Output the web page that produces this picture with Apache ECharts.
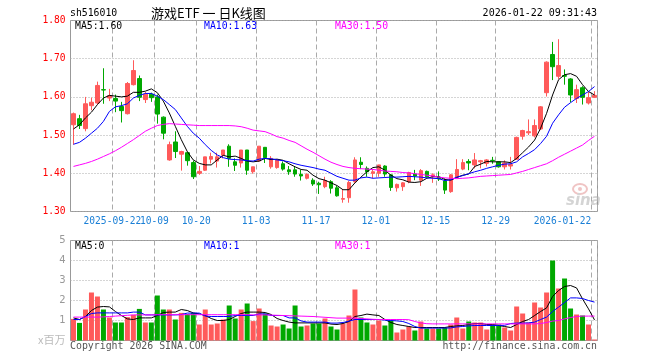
<!DOCTYPE html>
<html><head><meta charset="utf-8">
<script src="https://cdn.jsdelivr.net/npm/echarts@6/dist/echarts.min.js"></script>
<style>html,body{margin:0;padding:0;background:#fff}#c{width:660px;height:360px}</style>
</head><body><div id="c"></div>
<script>
const dates = [
'2025-09-11','2025-09-12','2025-09-15','2025-09-16','2025-09-17','2025-09-18','2025-09-19',
'2025-09-22','2025-09-23','2025-09-24','2025-09-25','2025-09-26','2025-09-29','2025-09-30',
'2025-10-09','2025-10-10','2025-10-13','2025-10-14','2025-10-15','2025-10-16','2025-10-17',
'2025-10-20','2025-10-21','2025-10-22','2025-10-23','2025-10-24','2025-10-27','2025-10-28','2025-10-29','2025-10-30','2025-10-31',
'2025-11-03','2025-11-04','2025-11-05','2025-11-06','2025-11-07','2025-11-10','2025-11-11','2025-11-12','2025-11-13','2025-11-14',
'2025-11-17','2025-11-18','2025-11-19','2025-11-20','2025-11-21','2025-11-24','2025-11-25','2025-11-26','2025-11-27','2025-11-28',
'2025-12-01','2025-12-02','2025-12-03','2025-12-04','2025-12-05','2025-12-08','2025-12-09','2025-12-10','2025-12-11','2025-12-12',
'2025-12-15','2025-12-16','2025-12-17','2025-12-18','2025-12-19','2025-12-22','2025-12-23','2025-12-24','2025-12-25','2025-12-26',
'2025-12-29','2025-12-30','2025-12-31','2026-01-05','2026-01-06','2026-01-07','2026-01-08','2026-01-09','2026-01-12','2026-01-13',
'2026-01-14','2026-01-15','2026-01-16','2026-01-19','2026-01-20','2026-01-21','2026-01-22'];

const tickDates = ['2025-09-22','2025-10-09','2025-10-20','2025-11-03','2025-11-17','2025-12-01','2025-12-15','2025-12-29','2026-01-22'];
const tickTexts = ['2025-09-22','10-09','10-20','11-03','11-17','12-01','12-15','12-29','2026-01-22'];

const opens = [1.527,1.543,1.517,1.577,1.584,1.619,1.597,1.596,1.575,1.556,
1.632,1.648,1.593,1.607,1.600,1.547,1.435,1.482,1.450,1.454,
1.428,1.400,1.408,1.437,1.432,1.447,1.471,1.430,1.427,1.461,
1.404,1.432,1.468,1.417,1.415,1.425,1.409,1.409,1.397,1.387,
1.382,1.374,1.365,1.378,1.362,1.332,1.336,1.378,1.429,1.413,
1.400,1.400,1.419,1.396,1.362,1.365,1.378,1.398,1.382,1.405,
1.391,1.390,1.380,1.352,1.390,1.411,1.431,1.422,1.430,1.426,
1.434,1.430,1.417,1.419,1.437,1.497,1.506,1.498,1.516,1.611,
1.711,1.654,1.656,1.647,1.596,1.624,1.584,1.599];
const closes = [1.556,1.525,1.582,1.586,1.630,1.618,1.603,1.589,1.564,1.635,
1.669,1.599,1.607,1.598,1.555,1.505,1.475,1.457,1.457,1.433,
1.391,1.405,1.443,1.444,1.443,1.461,1.439,1.421,1.461,1.408,
1.417,1.471,1.441,1.439,1.435,1.411,1.404,1.398,1.393,1.397,
1.372,1.370,1.381,1.361,1.341,1.334,1.376,1.435,1.423,1.404,
1.404,1.422,1.398,1.363,1.371,1.375,1.402,1.393,1.407,1.391,
1.396,1.385,1.356,1.396,1.410,1.428,1.427,1.435,1.433,1.435,
1.433,1.417,1.427,1.423,1.494,1.512,1.509,1.525,1.574,1.691,
1.679,1.682,1.654,1.605,1.619,1.599,1.598,1.604];
const lows = [1.475,1.516,1.510,1.565,1.580,1.582,1.589,1.560,1.533,1.554,
1.630,1.589,1.584,1.587,1.530,1.489,1.433,1.440,1.407,1.420,
1.385,1.396,1.406,1.426,1.415,1.439,1.417,1.406,1.415,1.396,
1.399,1.430,1.427,1.412,1.412,1.407,1.396,1.391,1.381,1.384,
1.367,1.346,1.361,1.347,1.339,1.323,1.323,1.375,1.411,1.391,
1.387,1.391,1.391,1.354,1.352,1.354,1.374,1.382,1.367,1.389,
1.375,1.380,1.346,1.349,1.387,1.408,1.408,1.413,1.413,1.418,
1.425,1.415,1.410,1.410,1.435,1.488,1.500,1.494,1.513,1.601,
1.644,1.647,1.632,1.586,1.584,1.580,1.580,1.597];
const highs = [1.559,1.553,1.600,1.598,1.640,1.675,1.621,1.606,1.587,1.639,
1.696,1.656,1.613,1.611,1.606,1.549,1.483,1.510,1.459,1.457,
1.433,1.419,1.443,1.454,1.454,1.461,1.476,1.439,1.461,1.461,
1.417,1.471,1.468,1.445,1.437,1.431,1.419,1.419,1.409,1.400,
1.387,1.378,1.391,1.382,1.367,1.358,1.380,1.442,1.442,1.418,
1.411,1.422,1.421,1.398,1.373,1.377,1.404,1.409,1.411,1.407,
1.400,1.405,1.387,1.398,1.437,1.437,1.437,1.453,1.435,1.437,
1.443,1.432,1.434,1.443,1.496,1.514,1.541,1.541,1.576,1.693,
1.744,1.751,1.672,1.649,1.632,1.628,1.615,1.615];

const ma5 = [1.516,1.527,1.545,1.560,1.580,1.597,1.604,1.602,1.600,1.602,
1.612,1.612,1.615,1.621,1.611,1.589,1.558,1.523,1.488,1.457,
1.435,1.426,1.422,1.422,1.435,1.447,1.443,1.445,1.439,1.432,
1.430,1.432,1.439,1.436,1.437,1.434,1.425,1.417,1.410,1.408,
1.395,1.386,1.382,1.375,1.368,1.357,1.357,1.375,1.390,1.404,
1.415,1.417,1.408,1.395,1.386,1.383,1.377,1.376,1.378,1.387,
1.391,1.391,1.384,1.382,1.389,1.395,1.398,1.418,1.424,1.431,
1.430,1.430,1.430,1.428,1.439,1.454,1.469,1.487,1.518,1.557,
1.605,1.645,1.658,1.661,1.654,1.632,1.614,1.605];
const ma10 = [1.476,1.481,1.492,1.505,1.518,1.536,1.562,1.574,1.577,1.582,
1.597,1.604,1.609,1.609,1.602,1.593,1.580,1.567,1.545,1.523,
1.505,1.492,1.475,1.460,1.448,1.441,1.437,1.436,1.435,1.433,
1.432,1.437,1.439,1.438,1.435,1.433,1.430,1.425,1.421,1.418,
1.415,1.411,1.408,1.400,1.392,1.387,1.382,1.382,1.388,1.390,
1.387,1.388,1.389,1.390,1.390,1.391,1.392,1.391,1.390,1.388,
1.387,1.386,1.381,1.383,1.390,1.394,1.399,1.404,1.408,1.413,
1.417,1.421,1.424,1.425,1.430,1.443,1.452,1.462,1.478,1.497,
1.531,1.553,1.573,1.585,1.596,1.605,1.614,1.627];
const ma30 = [1.418,1.422,1.426,1.431,1.437,1.444,1.451,1.459,1.468,1.478,
1.488,1.499,1.510,1.518,1.525,1.528,1.530,1.529,1.528,1.527,
1.526,1.525,1.525,1.525,1.525,1.525,1.525,1.524,1.522,1.518,
1.513,1.511,1.509,1.503,1.496,1.492,1.486,1.481,1.472,1.463,
1.455,1.446,1.437,1.429,1.423,1.418,1.415,1.413,1.412,1.411,
1.410,1.408,1.406,1.405,1.404,1.402,1.401,1.399,1.397,1.395,
1.393,1.390,1.388,1.387,1.386,1.387,1.388,1.390,1.392,1.393,
1.394,1.395,1.396,1.397,1.401,1.405,1.410,1.415,1.420,1.425,
1.433,1.442,1.450,1.458,1.466,1.474,1.486,1.497];

const volumes = [1.08,0.88,1.55,2.40,2.20,1.55,1.15,0.90,0.90,1.17,
1.28,1.58,0.90,0.90,2.25,1.55,1.55,1.05,1.38,1.32,
1.38,0.80,1.55,0.80,0.85,1.05,1.75,1.10,1.55,1.85,
0.97,1.60,1.35,0.75,0.70,0.80,0.60,1.75,0.70,0.75,
0.85,0.85,1.10,0.70,0.55,0.85,1.25,2.55,1.15,0.90,
0.80,1.00,0.75,1.00,0.40,0.55,0.70,0.50,0.95,0.60,
0.60,0.60,0.65,0.80,1.15,0.60,0.95,0.90,0.90,0.55,
0.80,0.80,0.65,0.50,1.70,1.35,0.90,1.90,1.65,2.40,
4.00,2.60,3.10,1.60,1.30,1.25,0.80,0.05];
const vma5 = [1.13,1.05,1.20,1.50,1.67,1.70,1.68,1.45,1.25,1.08,
1.05,1.13,1.13,1.13,1.25,1.40,1.42,1.42,1.55,1.50,
1.38,1.33,1.25,1.10,1.00,1.00,1.05,1.20,1.35,1.42,
1.42,1.42,1.40,1.30,1.10,1.00,0.92,0.88,0.88,0.88,
0.88,0.88,0.88,0.82,0.80,0.85,0.95,1.20,1.25,1.32,
1.28,1.25,1.05,0.90,0.80,0.75,0.70,0.65,0.65,0.65,
0.65,0.65,0.65,0.70,0.73,0.75,0.80,0.85,0.85,0.80,
0.80,0.75,0.70,0.65,0.80,0.95,1.05,1.25,1.45,1.63,
2.20,2.50,2.70,2.75,2.63,2.08,1.58,1.03];
const vma10 = [1.05,1.05,1.20,1.35,1.38,1.38,1.38,1.38,1.38,1.38,
1.42,1.42,1.28,1.28,1.28,1.28,1.28,1.28,1.30,1.37,
1.37,1.37,1.22,1.20,1.20,1.20,1.20,1.25,1.25,1.25,
1.25,1.33,1.33,1.25,1.25,1.25,1.13,1.13,0.98,0.92,
0.92,0.92,0.92,0.87,0.87,0.90,0.97,1.05,1.05,1.05,
1.05,1.05,1.02,1.00,0.98,0.95,0.85,0.70,0.62,0.62,
0.62,0.62,0.62,0.63,0.68,0.70,0.73,0.75,0.75,0.75,
0.75,0.75,0.76,0.85,0.87,0.87,0.88,0.92,1.05,1.17,
1.45,1.67,1.90,2.13,2.13,2.10,2.00,1.92];
const vma30 = [1.17,1.17,1.17,1.17,1.17,1.18,1.20,1.22,1.24,1.26,
1.28,1.28,1.28,1.28,1.29,1.29,1.29,1.29,1.29,1.29,
1.29,1.29,1.29,1.29,1.29,1.29,1.29,1.29,1.29,1.29,
1.28,1.28,1.28,1.27,1.26,1.25,1.24,1.23,1.22,1.21,
1.20,1.18,1.16,1.14,1.12,1.12,1.12,1.12,1.10,1.08,
1.06,1.05,1.05,1.05,1.05,1.05,1.04,0.95,0.88,0.84,
0.83,0.83,0.83,0.83,0.83,0.83,0.83,0.83,0.83,0.83,
0.83,0.83,0.83,0.83,0.83,0.83,0.83,0.83,0.85,0.90,
0.97,1.00,1.08,1.15,1.20,1.22,1.22,1.22];

const priceTicks = [1.30,1.40,1.50,1.60,1.70,1.80];
const volTicks = [0,1,2,3,4,5];

const UP = '#ff5a5a', DOWN = '#00a800';
const MONO = "'DejaVu Sans Mono', monospace";

const chart = echarts.init(document.getElementById('c'), null, {renderer:'canvas'});
const candleData = dates.map((d,i)=>[opens[i], closes[i], lows[i], highs[i]]);
const volData = volumes.map((v,i)=>({value:v, itemStyle:{color: closes[i] >= opens[i] ? UP : DOWN}}));
const isTick = (i, v) => tickDates.indexOf(v) >= 0;

const vDash = {show:true, interval:isTick, lineStyle:{color:'#aaaaaa', width:1, type:[5,3]}};
const hDot = {show:true, lineStyle:{color:'#aaaaaa', width:1, type:[1,2]}};

function lineS(name, data, color, xi) {
  return {name, type:'line', data, xAxisIndex:xi, yAxisIndex:xi, showSymbol:false, symbol:'none',
    lineStyle:{color, width:1}, itemStyle:{color}, silent:true, z:3};
}

chart.setOption({
  animation:false,
  backgroundColor:'#fff',
  grid:[
    {left:70.5, top:20.5, width:527, height:191, show:true, borderColor:'#999', borderWidth:1, outerBoundsMode:'none', containLabel:false},
    {left:70.5, top:240.5, width:527, height:100, show:true, borderColor:'#999', borderWidth:1, outerBoundsMode:'none', containLabel:false}
  ],
  xAxis:[
    {type:'category', gridIndex:0, data:dates, boundaryGap:true,
     axisLine:{show:false}, axisTick:{show:false},
     axisLabel:{show:true, interval:0, margin:5, hideOverlap:false,
       formatter:(v)=>{const k=tickDates.indexOf(v); if (k<0) return ''; const t=tickTexts[k]; return (k===tickDates.length-1?'{b|':'{a|')+t+'}';},
       rich:{a:{padding:[0,6,0,0], color:'#1a7fd6', fontFamily:MONO, fontSize:9.6},
             b:{padding:[0,64,0,0], color:'#1a7fd6', fontFamily:MONO, fontSize:9.6}},
       color:'#1a7fd6', fontFamily:MONO, fontSize:9.6},
     splitLine:vDash},
    {type:'category', gridIndex:1, data:dates, boundaryGap:true,
     axisLine:{show:false}, axisTick:{show:false}, axisLabel:{show:false},
     splitLine:vDash}
  ],
  yAxis:[
    {type:'value', gridIndex:0, min:priceTicks[0], max:priceTicks[priceTicks.length-1], interval:0.1,
     axisLine:{show:false}, axisTick:{show:false},
     axisLabel:{color:'#ff0000', fontFamily:MONO, fontSize:9.6, margin:5, formatter:(v)=>v.toFixed(2)},
     splitLine:hDot},
    {type:'value', gridIndex:1, min:volTicks[0], max:volTicks[volTicks.length-1], interval:1,
     axisLine:{show:false}, axisTick:{show:false},
     axisLabel:{color:'#999', fontFamily:"'DejaVu Sans', sans-serif", fontSize:10, margin:5, formatter:(v)=>v===0?'':String(v)},
     splitLine:hDot}
  ],
  series:[
    {type:'candlestick', xAxisIndex:0, yAxisIndex:0, data:candleData, barWidth:4,
     itemStyle:{color:UP, color0:DOWN, borderColor:UP, borderColor0:DOWN, borderWidth:1}, silent:true, z:2},
    lineS('MA5', ma5, '#000000', 0),
    lineS('MA10', ma10, '#0000ff', 0),
    lineS('MA30', ma30, '#ff00ff', 0),
    {type:'bar', xAxisIndex:1, yAxisIndex:1, data:volData, barWidth:5, silent:true, z:2},
    lineS('VMA5', vma5, '#000000', 1),
    lineS('VMA10', vma10, '#0000ff', 1),
    lineS('VMA30', vma30, '#ff00ff', 1)
  ],
  graphic:[
    {type:'text', x:70, y:13, style:{text:'sh516010', font:"9.8px 'DejaVu Sans Mono'", fill:'#000', verticalAlign:'middle'}},
    {type:'text', x:151, y:13, style:{text:'游戏ETF 一 日K线图', font:"13px 'Noto Sans CJK SC'", fill:'#000', verticalAlign:'middle'}},
    {type:'text', x:597, y:13, style:{text:'2026-01-22 09:31:43', font:"10px 'DejaVu Sans Mono'", fill:'#000', align:'right', verticalAlign:'middle'}},
    {type:'text', x:75, y:26.5, z:10, style:{text:'MA5:1.60', font:"9.8px 'DejaVu Sans Mono'", fill:'#000', verticalAlign:'middle'}},
    {type:'text', x:204, y:26.5, z:10, style:{text:'MA10:1.63', font:"9.8px 'DejaVu Sans Mono'", fill:'#0000ff', verticalAlign:'middle'}},
    {type:'text', x:335, y:26.5, z:10, style:{text:'MA30:1.50', font:"9.8px 'DejaVu Sans Mono'", fill:'#ff00ff', verticalAlign:'middle'}},
    {type:'text', x:75, y:246.5, z:10, style:{text:'MA5:0', font:"9.8px 'DejaVu Sans Mono'", fill:'#000', verticalAlign:'middle'}},
    {type:'text', x:204, y:246.5, z:10, style:{text:'MA10:1', font:"9.8px 'DejaVu Sans Mono'", fill:'#0000ff', verticalAlign:'middle'}},
    {type:'text', x:335, y:246.5, z:10, style:{text:'MA30:1', font:"9.8px 'DejaVu Sans Mono'", fill:'#ff00ff', verticalAlign:'middle'}},
    {type:'text', x:38, y:340, style:{text:'x百万', font:"11px 'Noto Sans CJK SC'", fill:'#bbbbbb', verticalAlign:'middle'}},
    {type:'text', x:70, y:346, style:{text:'Copyright 2026 SINA.COM', font:"9.9px 'DejaVu Sans Mono'", fill:'#555', verticalAlign:'middle'}},
    {type:'text', x:597, y:346, style:{text:'http://finance.sina.com.cn', font:"9.9px 'DejaVu Sans Mono'", fill:'#555', align:'right', verticalAlign:'middle'}},
    {type:'ellipse', shape:{cx:580, cy:189, rx:7, ry:5}, z:-1, style:{fill:'none', stroke:'#f0c4c4', lineWidth:2}},
    {type:'circle', shape:{cx:580, cy:189, r:2}, z:-1, style:{fill:'#f0c4c4'}},
    {type:'text', x:566, y:201, z:-1, style:{text:'sina', font:"italic bold 15px 'DejaVu Sans'", fill:'#d4d4d4', verticalAlign:'middle'}}
  ]
});
</script>
</body></html>
